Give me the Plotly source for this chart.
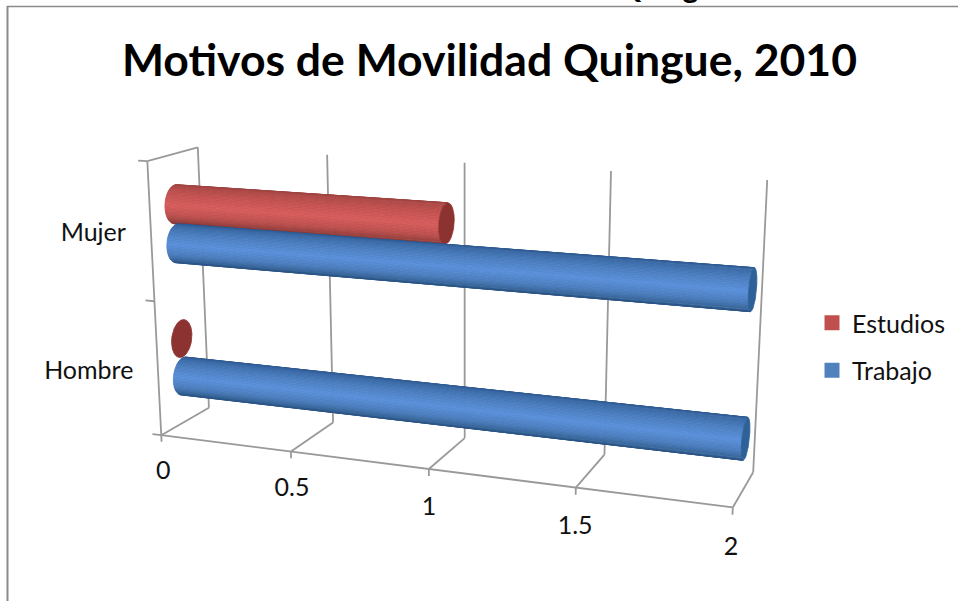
import numpy as np
import plotly.graph_objects as go

# ---- chart data ----
categories = ["Hombre", "Mujer"]
estudios = [0, 1]
trabajo = [2, 2]
value_ticks = [0, 0.5, 1, 1.5, 2]
value_tick_labels = ["0", "0.5", "1", "1.5", "2"]
title = "Motivos de Movilidad Quingue, 2010"
page_caption = "Gráfico N° 1:  Motivos de Movilidad Quingue"

# ---- view of the 3-D box: (value, depth, category position) -> screen pixels ----
calib_box = [(0, 0, 0), (0, 1, 0), (2, 0, 0), (2, 1, 0), (0, 1, 2), (2, 1, 2), (0, 0, 2),
             (.5, 0, 0), (.5, 1, 0), (.5, 1, 2), (1, 0, 0), (1, 1, 0), (1, 1, 2),
             (1.5, 0, 0), (1.5, 1, 0), (1.5, 1, 2)]
calib_px = [(161, 434), (209, 408), (733, 507), (753, 473), (198, 147), (767, 180), (147, 162),
            (291, 452), (333, 423), (327, 155), (429, 469), (465, 438), (465, 162),
            (576, 488), (604, 454), (611, 171)]
A, b = [], []
for (X, Y, Z), (u, v) in zip(calib_box, calib_px):
    A.append([X, Y, Z, 1, 0, 0, 0, 0, -u * X, -u * Y, -u * Z]); b.append(u)
    A.append([0, 0, 0, 0, X, Y, Z, 1, -v * X, -v * Y, -v * Z]); b.append(v)
P = np.append(np.linalg.lstsq(np.array(A, float), np.array(b, float), rcond=None)[0], 1).reshape(3, 4)


def proj(v, d, c):
    v, d, c = np.broadcast_arrays(np.asarray(v, float), np.asarray(d, float), np.asarray(c, float))
    h = P @ np.vstack([v.ravel(), d.ravel(), c.ravel(), np.ones(v.size)])
    return h[0] / h[2], h[1] / h[2]


fig = go.Figure()
GRID = "#999999"


def seg(a, b, width=1.8, color=GRID):
    x, y = proj([a[0], b[0]], [a[1], b[1]], [a[2], b[2]])
    fig.add_trace(go.Scatter(x=x, y=y, mode="lines", line=dict(color=color, width=width),
                             showlegend=False, hoverinfo="skip"))


# walls, floor and ticks
top = 2
vmax = value_ticks[-1]
for t in value_ticks:
    seg((t, 1, 0), (t, 1, top))
    seg((t, 0, 0), (t, 1, 0))
    seg((t, 0, 0), (t, 0, -0.05))
seg((0, 0, 0), (vmax, 0, 0))
seg((0, 0, 0), (0, 0, top))
seg((0, 0, top), (0, 1, top))
for c in range(len(categories) + 1):
    seg((0, 0, c), (-0.035, 0, c))

# ---- cylinders ----
R_D, R_C = 0.21, 0.14
D0 = 0.5
STOPS_BLUE = [(0, "#2f5a90"), (.08, "#3b6ba8"), (.3, "#4d80c2"), (.55, "#5a90da"), (.8, "#4b7dbd"), (.93, "#3a699f"), (1, "#2c5688")]
STOPS_RED = [(0, "#9c4341"), (.08, "#b04a48"), (.3, "#c65352"), (.55, "#d65c5b"), (.8, "#bd504e"), (.93, "#9f4341"), (1, "#863836")]


def shade(stops, u):
    for (a, ca), (b, cb) in zip(stops, stops[1:]):
        if u <= b:
            f = (u - a) / (b - a)
            ra = [int(ca[i:i + 2], 16) for i in (1, 3, 5)]
            rb = [int(cb[i:i + 2], 16) for i in (1, 3, 5)]
            return "rgb(%d,%d,%d)" % tuple(round(p + (q - p) * f) for p, q in zip(ra, rb))
    return stops[-1][1]


def cylinder(value, c0, stops, cap):
    th = np.linspace(-np.pi, np.pi, 721)
    d = D0 - R_D * np.cos(th)
    c = c0 + R_C * np.sin(th)
    if value > 0:
        # silhouette of the tube, seen perpendicular to its axis on screen
        x0, y0 = proj(0, D0, c0)
        x1, y1 = proj(value, D0, c0)
        n = np.array([-(y1 - y0)[0], (x1 - x0)[0]]); n /= np.hypot(*n)
        xc, yc = proj(value / 2, D0, c0)
        xm, ym = proj(np.full_like(th, value / 2), d, c)
        s = (xm - xc[0]) * n[0] + (ym - yc[0]) * n[1]
        lower, upper = th[np.argmax(s)], th[np.argmin(s)]
        N = 40
        ts = np.linspace(upper, lower, N + 1)
        sp = lambda t: (D0 - R_D * np.cos(t), c0 + R_C * np.sin(t))
        for i in range(N):
            d0, c_0 = sp(ts[i]); d1, c_1 = sp(ts[i + 1])
            x, y = proj([0, value, value, 0, 0], [d0, d0, d1, d1, d0], [c_0, c_0, c_1, c_1, c_0])
            xq, yq = proj(value / 2, (d0 + d1) / 2, (c_0 + c_1) / 2)
            u = ((xq[0] - xc[0]) * n[0] + (yq[0] - yc[0]) * n[1] - s.min()) / (s.max() - s.min())
            col = shade(stops, float(np.clip(u, 0, 1)))
            fig.add_trace(go.Scatter(x=x, y=y, mode="lines", fill="toself", fillcolor=col,
                                     line=dict(color=col, width=0.8), showlegend=False, hoverinfo="skip"))
    # end cap, circular in the (depth, category) plane
    x, y = proj(np.full_like(th, value), d, c)
    fig.add_trace(go.Scatter(x=x, y=y, mode="lines", fill="toself", fillcolor=cap,
                             line=dict(color=cap, width=0.8), showlegend=False, hoverinfo="skip"))


OFFSET_UP, OFFSET_DN = 0.637, 0.35
for i in range(len(categories)):
    cylinder(estudios[i], i + OFFSET_UP, STOPS_RED, "#8c3230")
    cylinder(trabajo[i], i + OFFSET_DN, STOPS_BLUE, "#2f6199")

# ---- labels ----
FONT = "Lato, Carlito, sans-serif"
x, y = proj(value_ticks, np.zeros(5), np.full(5, -0.285))
fig.add_trace(go.Scatter(x=x, y=y, mode="text", text=value_tick_labels, textposition="middle center",
                         textfont=dict(family=FONT, size=25, color="#111111"), showlegend=False, hoverinfo="skip"))
x, y = proj(np.full(2, -0.097), np.zeros(2), np.array([0.5, 1.5]))
fig.add_trace(go.Scatter(x=x, y=y + np.array([7, 5]), mode="text", text=categories, textposition="middle left",
                         textfont=dict(family=FONT, size=25, color="#111111"), showlegend=False, hoverinfo="skip"))

# ---- legend ----
for name, col, grp in [("Estudios", "#c0504d", "a"), ("Trabajo", "#4f81bd", "b")]:
    fig.add_trace(go.Scatter(x=[None], y=[None], mode="markers", name=name, legendgroup=grp,
                             marker=dict(symbol="square", size=15, color=col)))

fig.update_layout(
    width=958, height=601, margin=dict(l=0, r=0, t=0, b=0),
    paper_bgcolor="white", plot_bgcolor="white",
    xaxis=dict(range=[0, 958], visible=False, fixedrange=True),
    yaxis=dict(range=[601, 0], visible=False, fixedrange=True),
    legend=dict(x=812 / 958, y=1 - 300 / 601, xanchor="left", yanchor="top",
                bgcolor="rgba(0,0,0,0)", font=dict(family=FONT, size=25, color="#111111"),
                tracegroupgap=12, itemsizing="trace"),
    shapes=[
        dict(type="line", x0=7, x1=958, y0=6.5, y1=6.5, line=dict(color="#8a8a8a", width=1.5)),
        dict(type="line", x0=7.5, x1=7.5, y0=6, y1=601, line=dict(color="#8a8a8a", width=2)),
    ],
    annotations=[
        dict(text="<b>" + title + "</b>", x=489, y=58, xref="x", yref="y", showarrow=False,
             xanchor="center", yanchor="middle", font=dict(family=FONT, size=44.5, color="black")),
        dict(text="<b>" + page_caption + "</b>", x=733, y=6, xref="x", yref="y", showarrow=False,
             xanchor="right", yanchor="bottom", font=dict(family=FONT, size=30, color="black")),
    ],
)
fig.write_html("out.html", config=dict(displayModeBar=False),
               post_script="document.body.style.margin='0';document.documentElement.style.overflow='hidden';")
